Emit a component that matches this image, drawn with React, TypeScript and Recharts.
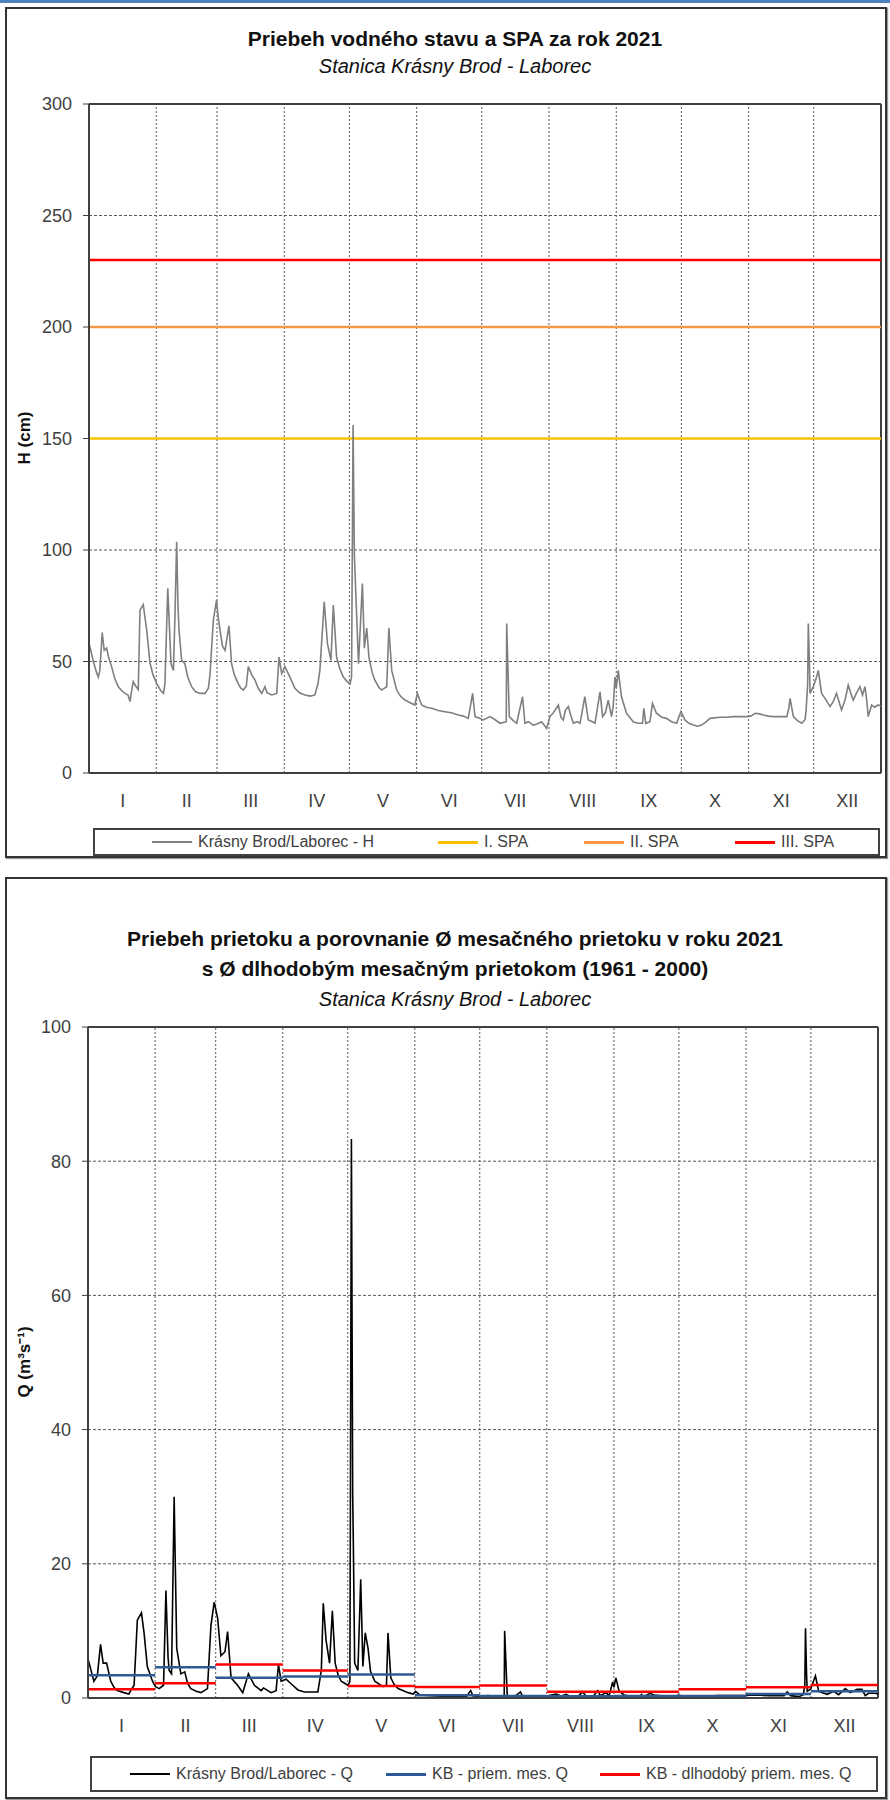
import React from 'react';
import { LineChart, Line, XAxis, YAxis, CartesianGrid, ReferenceLine } from 'recharts';

const FONT = '"Liberation Sans", Arial, sans-serif';
const INK = '#404040';

// month boundaries (day of year) and labels
const monthStarts = [0, 31, 59, 90, 120, 151, 181, 212, 243, 273, 304, 334, 365];
const monthLabels = ['I', 'II', 'III', 'IV', 'V', 'VI', 'VII', 'VIII', 'IX', 'X', 'XI', 'XII'];
const monthMids = monthStarts.slice(0, 12).map((s, i) => (s + monthStarts[i + 1]) / 2);

const hTicks = [0, 50, 100, 150, 200, 250, 300];
const qTicks = [0, 20, 40, 60, 80, 100];

// water level H (cm) – [day, value]
const hLevel: [number, number][] = [
  [0, 58], [0.6, 56], [2, 50], [3.5, 45], [4.3, 43], [5, 46], [6.1, 63], [7, 55], [8.1, 56], [9, 52],
  [10.4, 47.7], [12, 42], [13.5, 38.7], [15, 37], [16.6, 35.7], [18, 35], [18.9, 32], [19.5, 36], [20.4, 41],
  [21.5, 39], [22.7, 37.4], [23.5, 73], [25, 75.5], [26.6, 64], [28.1, 49.4], [29.5, 44], [31.2, 40.2],
  [33, 37], [34.3, 35.7], [35, 40], [36.3, 82.8], [37.8, 49], [38.9, 46], [39.6, 70], [40.4, 103.7], [41, 75],
  [41.5, 64], [42.7, 50.5], [44.2, 49], [45.5, 43], [47.3, 38.7], [49, 36.5], [51.2, 35.7], [53.5, 35.7],
  [55, 38], [55.8, 44.6], [57.3, 68.6], [58.8, 77.6], [59.5, 70], [60.4, 64], [61.5, 57], [62.7, 55],
  [64.5, 66], [65.7, 49], [67, 44], [68.8, 40], [70, 38], [71.1, 37.2], [72.5, 39], [73.4, 47.7], [75, 44],
  [76.5, 41.7], [78, 38], [79.6, 35.7], [81.1, 38.7], [82, 36], [84.2, 35], [86.5, 35.7], [87.6, 52],
  [88.8, 44.6], [90.3, 47.7], [92.6, 43], [94.9, 38], [97, 36], [99.5, 35], [102, 34.5], [104.1, 35],
  [105.5, 40], [106.4, 46], [108.4, 76.8], [109.9, 58], [111.5, 50.5], [112.6, 75.3], [114.1, 52],
  [115.5, 47], [117.2, 43], [119, 41], [120.3, 40], [121, 43], [121.7, 156], [122.3, 98], [122.9, 82],
  [124.2, 49], [126, 85], [126.9, 56], [128, 65], [129, 52], [130.5, 45], [131.7, 41.7], [133.5, 38.5],
  [134.9, 37.2], [137.2, 38.7], [138.2, 65], [139.5, 46], [141.8, 37.2], [143.5, 34.5], [145.6, 32.7],
  [148, 31.5], [150.2, 30.5], [151.3, 35.7], [153.3, 30.5], [155.5, 29.5], [157.9, 29], [161, 28],
  [164, 27.5], [167, 27], [170.2, 26], [172.5, 25.5], [174.8, 24.5], [176.8, 35.7], [177.9, 25.3],
  [180, 24.5], [181.7, 23.8], [184.8, 25.3], [187, 24], [189.4, 22.3], [192.3, 23], [192.5, 67],
  [193.7, 25.3], [195.5, 23.5], [197.1, 22.3], [199.8, 34.2], [200.9, 22.3], [202.5, 23], [204.7, 21.5],
  [206.5, 22], [208.6, 23], [210.9, 20], [212.4, 25.3], [214, 27], [216.3, 30.5], [217.5, 25], [218.6, 23.8],
  [219.5, 28], [220.9, 29.8], [222, 26], [223.2, 22.3], [225, 23], [226.3, 22.3], [228.5, 34.2],
  [230.1, 23.8], [232, 23], [233.2, 22.3], [235.5, 36.4], [236.7, 25.3], [238, 27], [239.3, 32.7],
  [240.8, 25.3], [241.6, 30], [242.4, 43], [243, 38], [243.9, 46], [245.4, 34.2], [247.7, 26.8],
  [250.8, 23], [253, 22.3], [255.1, 22.3], [255.7, 29], [256.6, 22.3], [258.5, 23], [259.7, 31.2],
  [261.5, 26.8], [264, 25], [266.1, 24.5], [268.5, 23], [270.8, 22.3], [272.8, 27.5], [274.6, 23.8],
  [276.5, 22.3], [278.5, 21.5], [280.5, 21], [282.3, 21.5], [284.5, 23], [286.2, 24.5], [290.8, 25],
  [294, 25], [297, 25.3], [300, 25.3], [303.1, 25.3], [305, 25.5], [307, 26.8], [309, 26.5], [310.8, 26],
  [313, 25.5], [315.4, 25.3], [318, 25.3], [321.6, 25.3], [322.5, 29], [323.1, 33.5], [324.6, 25.3],
  [326.5, 23.5], [328.5, 22.3], [330, 24], [330.5, 28.3], [331.2, 40], [331.5, 67], [332, 50],
  [332.3, 35.7], [333.8, 38.7], [335, 42], [336.1, 46], [337.6, 35.7], [339.5, 33], [341.5, 29.8],
  [343, 32], [344.5, 35.7], [346.8, 28.3], [348.5, 33], [349.9, 39.4], [351, 36], [352.2, 32.7],
  [353.8, 36], [355.3, 38.7], [356.5, 35], [357.6, 38.7], [358.5, 32], [359.1, 25.3], [360.7, 30.5],
  [362, 29.5], [363.7, 30.5], [365, 30],
];

const spaNames = ['I. SPA', 'II. SPA', 'III. SPA'];
const spaLevels = [150, 200, 230];
const spaColors = ['#ffc000', '#f79646', '#ff0000'];

// discharge Q (m3/s) – [day, value]
const qFlow: [number, number][] = [
  [0, 5.8], [1.5, 4], [2.7, 2.5], [4.3, 3.3], [5.8, 8], [7, 5.2], [8.6, 5.2], [10.5, 2.5], [12, 1.6],
  [13.5, 1.1], [16.6, 0.8], [18.9, 0.6], [19.7, 1.1], [21.3, 1.9], [22.8, 11.6], [24.7, 12.7], [25.9, 9.7],
  [27.4, 4.7], [29.8, 2.5], [31.2, 1.7], [32.9, 1.4], [34.9, 1.9], [36, 16], [37, 6], [37.5, 4.1],
  [38.6, 3.6], [39.8, 30], [41, 7.4], [42.9, 3.6], [44.7, 3.9], [46, 2.2], [47.5, 1.4], [50, 1],
  [52.2, 0.8], [55.2, 1.4], [56.8, 10.8], [58.3, 14.3], [59.9, 11.9], [61.4, 6.3], [63.3, 6.9],
  [64.5, 9.9], [66.1, 3], [69.1, 1.9], [71.5, 0.8], [74.1, 3.6], [76.9, 1.9], [80, 1.1], [81.1, 1.5],
  [84.6, 0.8], [86.9, 1.1], [88, 5], [89.2, 2.5], [91.5, 2.8], [94.6, 1.9], [97, 1.2], [100, 0.9],
  [106.2, 0.9], [107.8, 4.1], [108.7, 14.1], [110, 8.6], [111.6, 5.2], [112.9, 13], [114.2, 5.2],
  [115.5, 3.5], [117, 2.5], [120.1, 1.9], [121, 2.5], [121.7, 83.3], [122.3, 30], [122.6, 22.9],
  [123.2, 5.2], [124.7, 4.1], [126, 17.7], [127, 4.7], [128.1, 9.7], [129.4, 7.4], [130.5, 4],
  [132.5, 2.5], [136.3, 1.7], [137.9, 1.9], [138.6, 9.7], [139.9, 3], [141.5, 2], [143.3, 1.4],
  [147.9, 0.8], [150.2, 0.6], [151.3, 1.0], [153.3, 0.45], [160.3, 0.3], [168, 0.2], [174.8, 0.2],
  [176.8, 1.1], [177.9, 0.3], [181.7, 0.25], [184.8, 0.35], [189.4, 0.2], [192.3, 0.25], [192.5, 10],
  [193.7, 0.35], [197.1, 0.2], [199.8, 0.9], [200.9, 0.2], [204.7, 0.15], [208.6, 0.25], [210.9, 0.1],
  [212.4, 0.35], [216.3, 0.6], [218.6, 0.3], [220.9, 0.55], [223.2, 0.2], [226.3, 0.2], [228.5, 0.9],
  [230.1, 0.3], [233.2, 0.2], [235.5, 1.1], [236.7, 0.35], [239.3, 0.8], [240.8, 0.35], [242.4, 2.4],
  [243, 1.6], [243.9, 3.0], [245.4, 1.0], [247.7, 0.45], [250.8, 0.25], [255.1, 0.2], [255.7, 0.55],
  [256.6, 0.2], [259.7, 0.7], [261.5, 0.45], [266.1, 0.3], [270.8, 0.2], [272.8, 0.45], [274.6, 0.3],
  [278.5, 0.15], [282.3, 0.15], [286.2, 0.3], [290.8, 0.35], [297, 0.35], [303.1, 0.35], [307, 0.45],
  [310.8, 0.4], [315.4, 0.35], [321.6, 0.35], [323.1, 0.9], [324.6, 0.35], [328.5, 0.2], [330.5, 0.5],
  [331.2, 2], [331.5, 10.4], [332, 3.5], [332.3, 1.0], [333.8, 1.3], [336.1, 3.3], [337.6, 1.0],
  [341.5, 0.55], [344.5, 1.0], [346.8, 0.5], [349.9, 1.4], [352.2, 0.8], [355.3, 1.3], [357.6, 1.3],
  [359.1, 0.35], [360.7, 0.7], [363.7, 0.7], [365, 0.6],
];

// monthly means 2021 and long-term (1961-2000) monthly means
const qMonthly2021 = [3.4, 4.6, 3.0, 3.2, 3.5, 0.4, 0.3, 0.25, 0.3, 0.3, 0.6, 1.0];
const qMonthlyLong = [1.3, 2.2, 5.0, 4.1, 1.8, 1.65, 1.85, 0.95, 0.95, 1.3, 1.6, 1.95];

const hData = hLevel.map(([day, v]) => ({ day, v }));
const qData = qFlow.map(([day, v]) => ({ day, v }));
const flatLine = (v: number) => [{ day: 0, v }, { day: 365, v }];
const monthSteps = (vals: number[]) =>
  vals.flatMap((v, i) => [
    { day: monthStarts[i], v },
    { day: monthStarts[i + 1], v },
    { day: monthStarts[i + 1], v: null },
  ]);

const tickStyle = { fontSize: 18, fill: INK, fontFamily: FONT };

const Frame = ({ top, height }: { top: number; height: number }) => (
  <div
    style={{
      position: 'absolute', left: 5, top, width: 882, height,
      border: '2px solid #333', boxSizing: 'border-box', boxShadow: '1px 1px 1px #999',
    }}
  />
);

const Title = ({ top, text, italic }: { top: number; text: string; italic?: boolean }) => (
  <div
    style={{
      position: 'absolute', left: 0, top, width: 910, textAlign: 'center', lineHeight: '24px',
      fontFamily: FONT, fontSize: italic ? 20 : 21, fontWeight: italic ? 400 : 700,
      fontStyle: italic ? 'italic' : 'normal', color: '#111',
    }}
  >
    {text}
  </div>
);

const YTitle = ({ cy, text }: { cy: number; text: string }) => (
  <div
    style={{
      position: 'absolute', left: 25 - 100, top: cy - 12, width: 200, height: 24, lineHeight: '24px',
      textAlign: 'center', transform: 'rotate(-90deg)', fontFamily: FONT, fontSize: 17, fontWeight: 700,
      color: '#111',
    }}
  >
    {text}
  </div>
);

type LegendItem = { name: string; color: string; w: number; x: number };
const LegendBox = ({ left, top, width, height, fontSize, items }: { left: number; top: number; width: number; height: number; fontSize: number; items: LegendItem[] }) => (
  <div
    style={{
      position: 'absolute', left, top, width, height, border: `2px solid ${INK}`, boxSizing: 'border-box',
      background: '#fff', fontFamily: FONT, fontSize, color: INK,
    }}
  >
    {items.map((it) => (
      <div
        key={it.name}
        style={{ position: 'absolute', left: it.x, top: 0, bottom: 0, display: 'flex', alignItems: 'center', whiteSpace: 'nowrap' }}
      >
        <span style={{ display: 'inline-block', width: 40, borderTop: `${it.w}px solid ${it.color}`, marginRight: 6 }} />
        {it.name}
      </div>
    ))}
  </div>
);

const axisLine = { stroke: INK, strokeWidth: 2 };

const LevelChart = () => (
  <div style={{ position: 'absolute', left: 0, top: 0 }}>
    <LineChart width={890} height={860} margin={{ top: 104, right: 9, bottom: 47, left: 0 }}>
      <CartesianGrid vertical={false} stroke="#5a5a5a" strokeDasharray="3 2" />
      {monthStarts.slice(1, 12).map((d) => (
        <ReferenceLine key={d} x={d} stroke="#5a5a5a" strokeDasharray="2 2" />
      ))}
      <ReferenceLine y={300} stroke={INK} strokeWidth={2} />
      <ReferenceLine x={365} stroke={INK} strokeWidth={2} />
      <XAxis
        type="number" dataKey="day" domain={[0, 365]} ticks={monthMids} interval={0}
        tickFormatter={(_v: number, i: number) => monthLabels[i]} tickLine={false} tickSize={0} tickMargin={21}
        axisLine={axisLine} height={40} tick={tickStyle} allowDataOverflow
      />
      <YAxis
        type="number" domain={[0, 300]} ticks={hTicks} interval={0} width={89} tickSize={6} tickMargin={11}
        tickLine={{ stroke: INK }} axisLine={axisLine} tick={tickStyle}
      />
      {spaLevels.map((lvl, i) => (
        <Line key={spaNames[i]} data={flatLine(lvl)} dataKey="v" stroke={spaColors[i]} strokeWidth={2.5} dot={false} isAnimationActive={false} />
      ))}
      <Line data={hData} dataKey="v" stroke="#7f7f7f" strokeWidth={1.6} dot={false} isAnimationActive={false} />
    </LineChart>
  </div>
);

const FlowChart = () => (
  <div style={{ position: 'absolute', left: 0, top: 870 }}>
    <LineChart width={890} height={930} margin={{ top: 157, right: 12, bottom: 62, left: 0 }}>
      <CartesianGrid vertical={false} stroke="#5a5a5a" strokeDasharray="3 2" />
      {monthStarts.slice(1, 12).map((d) => (
        <ReferenceLine key={d} x={d} stroke="#5a5a5a" strokeDasharray="2 2" />
      ))}
      <ReferenceLine y={100} stroke={INK} strokeWidth={2} />
      <ReferenceLine x={365} stroke={INK} strokeWidth={2} />
      <XAxis
        type="number" dataKey="day" domain={[0, 365]} ticks={monthMids} interval={0}
        tickFormatter={(_v: number, i: number) => monthLabels[i]} tickLine={false} tickSize={0} tickMargin={21}
        axisLine={axisLine} height={40} tick={tickStyle} allowDataOverflow
      />
      <YAxis
        type="number" domain={[0, 100]} ticks={qTicks} interval={0} width={88} tickSize={6} tickMargin={11}
        tickLine={{ stroke: INK }} axisLine={axisLine} tick={tickStyle}
      />
      <Line data={qData} dataKey="v" stroke="#000" strokeWidth={1.6} dot={false} isAnimationActive={false} />
      <Line data={monthSteps(qMonthly2021)} dataKey="v" stroke="#2e5b95" strokeWidth={2.5} dot={false} connectNulls={false} isAnimationActive={false} />
      <Line data={monthSteps(qMonthlyLong)} dataKey="v" stroke="#ff0000" strokeWidth={2.5} dot={false} connectNulls={false} isAnimationActive={false} />
    </LineChart>
  </div>
);

export default function App() {
  return (
    <div style={{ position: 'absolute', left: 0, top: 0, width: 890, height: 1800, background: '#fff', overflow: 'hidden' }}>
      <div style={{ position: 'absolute', left: 0, top: 0, width: 890, height: 3, background: '#4f81bd' }} />
      <Frame top={7} height={851} />
      <Frame top={877} height={922} />
      <LevelChart />
      <FlowChart />
      <Title top={27} text="Priebeh vodného stavu a SPA za rok 2021" />
      <Title top={54} text="Stanica Krásny Brod - Laborec" italic />
      <Title top={927} text="Priebeh prietoku a porovnanie Ø mesačného prietoku v roku 2021" />
      <Title top={957} text="s Ø dlhodobým mesačným prietokom (1961 - 2000)" />
      <Title top={987} text="Stanica Krásny Brod - Laborec" italic />
      <YTitle cy={438} text="H (cm)" />
      <YTitle cy={1362} text="Q (m³s⁻¹)" />
      <LegendBox
        left={93} top={828} width={787} height={28} fontSize={16}
        items={[
          { name: 'Krásny Brod/Laborec - H', color: '#7f7f7f', w: 2, x: 57 },
          { name: spaNames[0], color: spaColors[0], w: 3, x: 343 },
          { name: spaNames[1], color: spaColors[1], w: 3, x: 489 },
          { name: spaNames[2], color: spaColors[2], w: 3, x: 640 },
        ]}
      />
      <LegendBox
        left={90} top={1756} width={788} height={36} fontSize={16}
        items={[
          { name: 'Krásny Brod/Laborec - Q', color: '#000', w: 2, x: 38 },
          { name: 'KB - priem. mes. Q', color: '#2e5b95', w: 3, x: 294 },
          { name: 'KB - dlhodobý priem. mes. Q', color: '#ff0000', w: 3, x: 508 },
        ]}
      />
    </div>
  );
}
